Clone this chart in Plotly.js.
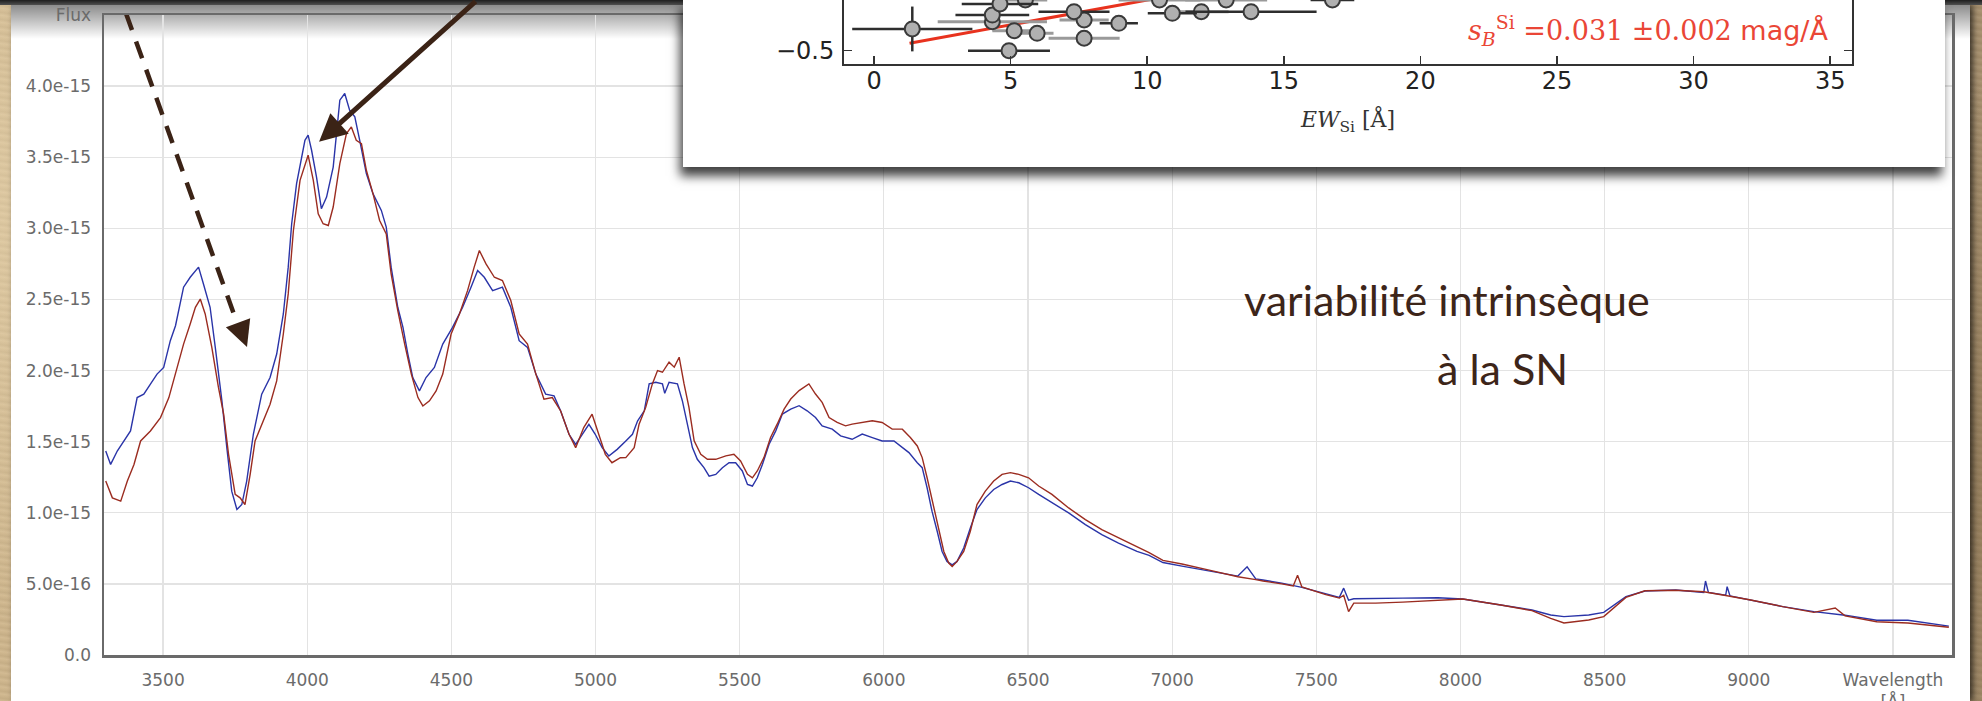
<!DOCTYPE html>
<html>
<head>
<meta charset="utf-8">
<script src="https://cdn.plot.ly/plotly-3.0.1.min.js"></script>
<style>
html,body{margin:0;padding:0;width:1982px;height:701px;overflow:hidden;}
body{position:relative;background:#c6ad84;}
#bg{position:absolute;left:0;top:0;width:1982px;height:701px;
 background:
 radial-gradient(ellipse at 10% 30%, rgba(255,240,205,0.35), rgba(255,240,205,0) 60%),
 radial-gradient(ellipse at 90% 70%, rgba(110,85,50,0.30), rgba(110,85,50,0) 60%),
 repeating-linear-gradient(8deg, rgba(255,255,255,0.06) 0px, rgba(0,0,0,0.05) 3px, rgba(255,255,255,0.04) 7px),
 linear-gradient(90deg,#d0b78d,#c4aa80 50%,#a8916f);}
#panel{position:absolute;left:11px;top:5px;width:1959px;height:696px;background:#fff;box-shadow:3px 0 6px rgba(0,0,0,0.65);}
#panelshade{position:absolute;left:11px;top:5px;width:1959px;height:34px;background:linear-gradient(rgba(0,0,0,0.45),rgba(0,0,0,0));}
#topband{position:absolute;left:0;top:0;width:1982px;height:5px;background:linear-gradient(#1e1e1e,#505050);}
#main{position:absolute;left:0;top:0;width:1982px;height:701px;}
#inset{position:absolute;left:683px;top:0;width:1262px;height:167px;background:#fff;box-shadow:-3px 9px 10px rgba(0,0,0,0.75);}
</style>
</head>
<body>
<div id="bg"></div>
<div id="panel"></div>
<div id="panelshade"></div>
<div id="topband"></div>
<div id="main"></div>
<div id="inset"></div>
<script>
// ---------------- Spectrum data (flux in units of 1e-15) ----------------
const FLUX_UNIT = 1e-15;

const blueWave = [
 3301,3318,3341,3364,3387,3410,3433,3456,3479,3502,
 3525,3543,3571,3594,3623,3640,3663,3681,3704,3721,
 3738,3756,3773,3790,3813,3842,3871,3894,3917,3934,
 3946,3963,3980,3992,4003,4015,4032,4049,4067,4090,
 4113,4130,4147,4165,4182,4205,4228,4257,4274,4291,
 4314,4332,4349,4366,4389,4412,4441,4470,4504,4539,
 4568,4591,4614,4643,4677,4706,4735,4764,4793,4827,
 4856,4879,4908,4931,4954,4977,4999,5023,5046,5075,
 5105,5128,5146,5169,5186,5209,5232,5240,5255,5284,
 5301,5319,5336,5353,5376,5394,5417,5440,5463,5486,
 5509,5527,5544,5561,5579,5602,5625,5648,5677,5706,
 5734,5763,5786,5821,5850,5890,5925,5960,5994,6035,
 6058,6087,6116,6133,6150,6167,6185,6202,6219,6237,
 6254,6277,6300,6323,6352,6381,6410,6439,6468,6502,
 6537,6583,6641,6699,6756,6814,6878,6920,6968,7034,
 7121,7228,7260,7290,7315,7380,7450,7533,7580,7595,
 7612,7630,7706,7800,7922,8008,8140,8248,8313,8359,
 8445,8497,8574,8640,8747,8844,8850,8860,8920,8925,
 8935,9007,9118,9226,9300,9334,9444,9552,9694
];
const blueFlux = [
 1.434,1.340,1.434,1.505,1.575,1.810,1.834,1.904,1.975,2.022,
 2.210,2.315,2.586,2.656,2.727,2.609,2.445,2.163,1.787,1.458,
 1.152,1.023,1.058,1.223,1.552,1.834,1.951,2.116,2.398,2.727,
 3.032,3.314,3.502,3.619,3.655,3.549,3.361,3.138,3.220,3.431,
 3.901,3.948,3.831,3.784,3.619,3.385,3.244,3.126,3.009,2.727,
 2.445,2.304,2.116,1.951,1.857,1.951,2.022,2.186,2.304,2.445,
 2.586,2.703,2.656,2.562,2.586,2.445,2.210,2.163,1.975,1.834,
 1.822,1.716,1.552,1.481,1.552,1.622,1.552,1.458,1.399,1.446,
 1.505,1.552,1.647,1.717,1.906,1.918,1.906,1.840,1.918,1.906,
 1.788,1.623,1.458,1.376,1.317,1.258,1.270,1.317,1.352,1.352,
 1.294,1.199,1.188,1.246,1.341,1.482,1.576,1.694,1.729,1.753,
 1.717,1.670,1.611,1.588,1.541,1.517,1.553,1.529,1.505,1.505,
 1.470,1.423,1.352,1.317,1.176,1.011,0.870,0.728,0.658,0.634,
 0.658,0.752,0.893,1.023,1.105,1.164,1.199,1.223,1.211,1.176,
 1.129,1.070,0.999,0.917,0.846,0.787,0.728,0.700,0.650,0.625,
 0.595,0.555,0.620,0.535,0.527,0.505,0.475,0.430,0.405,0.470,
 0.385,0.395,0.395,0.400,0.403,0.394,0.352,0.316,0.281,0.270,
 0.281,0.300,0.410,0.450,0.457,0.440,0.520,0.440,0.420,0.480,
 0.415,0.387,0.340,0.305,0.285,0.280,0.244,0.244,0.203
];

const redWave = [
 3301,3324,3353,3376,3399,3422,3456,3491,3520,3543,
 3571,3594,3612,3629,3646,3669,3692,3710,3727,3750,
 3767,3784,3802,3819,3842,3871,3894,3917,3934,3952,
 3975,3992,4003,4021,4038,4055,4073,4090,4113,4136,
 4153,4170,4188,4205,4228,4251,4274,4291,4314,4338,
 4361,4384,4401,4424,4447,4470,4499,4528,4556,4579,
 4597,4620,4649,4677,4706,4735,4764,4793,4821,4850,
 4879,4908,4931,4959,4988,5011,5034,5057,5086,5105,
 5134,5151,5174,5197,5215,5232,5255,5273,5290,5307,
 5324,5342,5365,5388,5417,5452,5480,5503,5527,5544,
 5561,5584,5607,5630,5654,5677,5706,5740,5763,5786,
 5810,5838,5867,5890,5925,5960,5994,6029,6064,6092,
 6116,6133,6150,6173,6191,6208,6225,6237,6254,6277,
 6300,6323,6352,6381,6410,6439,6468,6502,6537,6583,
 6641,6699,6756,6814,6866,6920,6968,7034,7121,7228,
 7290,7315,7380,7420,7435,7450,7533,7580,7595,7612,
 7630,7706,7800,7922,8008,8140,8248,8313,8359,8445,
 8497,8574,8640,8747,8844,8920,9007,9118,9226,9300,
 9334,9444,9552,9694
];
const redFlux = [
 1.223,1.105,1.082,1.223,1.340,1.505,1.575,1.669,1.810,1.975,
 2.186,2.327,2.445,2.503,2.398,2.163,1.881,1.693,1.411,1.129,
 1.105,1.058,1.270,1.505,1.622,1.763,1.927,2.257,2.539,2.985,
 3.337,3.455,3.514,3.337,3.102,3.032,3.020,3.150,3.455,3.666,
 3.713,3.619,3.596,3.408,3.244,3.055,2.961,2.680,2.421,2.186,
 1.975,1.810,1.751,1.787,1.857,1.975,2.257,2.398,2.562,2.727,
 2.844,2.750,2.656,2.633,2.492,2.257,2.186,1.975,1.799,1.810,
 1.716,1.552,1.458,1.599,1.693,1.552,1.411,1.352,1.387,1.388,
 1.458,1.623,1.741,1.906,2.000,1.988,2.059,2.024,2.094,1.906,
 1.741,1.506,1.411,1.376,1.376,1.400,1.411,1.364,1.270,1.246,
 1.294,1.388,1.529,1.623,1.729,1.800,1.859,1.906,1.835,1.776,
 1.670,1.635,1.611,1.623,1.635,1.647,1.635,1.588,1.588,1.529,
 1.470,1.388,1.246,1.034,0.870,0.728,0.646,0.622,0.658,0.728,
 0.870,1.058,1.152,1.223,1.270,1.282,1.270,1.246,1.188,1.129,
 1.034,0.952,0.881,0.822,0.775,0.720,0.665,0.640,0.600,0.550,
 0.530,0.520,0.500,0.485,0.560,0.478,0.425,0.400,0.420,0.305,
 0.365,0.365,0.372,0.382,0.394,0.352,0.312,0.258,0.225,0.246,
 0.270,0.405,0.452,0.455,0.445,0.418,0.387,0.340,0.300,0.330,
 0.275,0.234,0.225,0.195
];

// axis ticks
const xTickVals = [3500,4000,4500,5000,5500,6000,6500,7000,7500,8000,8500,9000,9500];
const xTickText = ["3500","4000","4500","5000","5500","6000","6500","7000","7500","8000","8500","9000","Wavelength<br>[Å]"];
const yTickVals = [0,0.5,1.0,1.5,2.0,2.5,3.0,3.5,4.0,4.5];
const yTickText = ["0.0","5.0e-16","1.0e-15","1.5e-15","2.0e-15","2.5e-15","3.0e-15","3.5e-15","4.0e-15","Flux"];

// annotation targets (wavelength, flux/1e-15)
const dashedArrowStart = [3371, 4.513];
const dashedArrowEnd   = [3763, 2.299];
const dashedArrowTip   = [3791, 2.165];
const solidArrowTip    = [4041, 3.608];
const commentLines = ["variabilité intrinsèque", "à la SN"];

// ---------------- Inset data ----------------
const ewDark     = [1.40, 4.94, 4.33, 4.61, 7.32, 8.96, 10.92, 13.80, 16.78];
const magDark    = [-0.364, -0.500, -0.277, -0.208, -0.256, -0.329, -0.266, -0.256, -0.183];
const ewErrDark  = [2.2, 1.5, 1.35, 1.4, 1.3, 0.7, 0.9, 2.4, 0.8];
const magErrDark = [0.14, 0, 0, 0, 0, 0, 0, 0, 0];
const ewGrey     = [4.33, 5.13, 5.97, 7.69, 7.69, 5.54, 10.45, 11.98, 12.89];
const magGrey    = [-0.319, -0.375, -0.391, -0.308, -0.422, -0.183, -0.183, -0.256, -0.183];
const ewErrGrey  = [2.0, 0.8, 0.6, 0.9, 1.3, 0.8, 1.5, 1.0, 1.5];
const fitEW  = [1.3, 35];
const fitMag = [-0.453, 0.592];
const insetXTicks = [0,5,10,15,20,25,30,35];
const insetYTicks = [-1.0,-0.5,0.0,0.5,1.0];
const slopeText = '<i>s</i><sub><i>B</i></sub><sup>Si</sup> =0.031 ±0.002 <span style="font-family:\'DejaVu Sans\'">mag/Å</span>';

// ---------------- Main chart ----------------
const tickFont = {family:'DejaVu Sans, Verdana, sans-serif', size:17, color:'#6b6b6b'};
const mainTraces = [
 {x: blueWave, y: blueFlux.map(v => v*FLUX_UNIT), type:'scatter', mode:'lines',
  line:{color:'#2a34a8', width:1.4}, hoverinfo:'skip'},
 {x: redWave, y: redFlux.map(v => v*FLUX_UNIT), type:'scatter', mode:'lines',
  line:{color:'#9b2c20', width:1.4}, hoverinfo:'skip'}
];
const arrowColor = '#3b2316';
const mainLayout = {
 width:1982, height:701,
 margin:{l:104, r:30, t:15, b:46, pad:0},
 paper_bgcolor:'rgba(0,0,0,0)', plot_bgcolor:'rgba(0,0,0,0)',
 showlegend:false,
 xaxis:{range:[3295,9705], tickmode:'array', tickvals:xTickVals, ticktext:xTickText,
  showgrid:true, gridcolor:'#e3e3e3', gridwidth:1.3, zeroline:false,
  showline:true, linecolor:'#6a6a6a', linewidth:2.5, mirror:true,
  ticks:'outside', ticklen:0, ticklabelstandoff:8, tickfont:tickFont},
 yaxis:{range:[0,4.5*FLUX_UNIT], tickmode:'array', tickvals:yTickVals.map(v=>v*FLUX_UNIT), ticktext:yTickText,
  showgrid:true, gridcolor:'#e3e3e3', gridwidth:1.3, zeroline:false,
  showline:true, linecolor:'#6a6a6a', linewidth:2.5, mirror:true,
  ticks:'outside', ticklen:0, ticklabelstandoff:7, tickfont:tickFont},
 shapes:[
  {type:'line', xref:'x', yref:'y',
   x0:dashedArrowStart[0], y0:dashedArrowStart[1]*FLUX_UNIT,
   x1:dashedArrowEnd[0], y1:dashedArrowEnd[1]*FLUX_UNIT,
   line:{color:arrowColor, width:4.5, dash:'18px,12px'}}
 ],
 annotations:[
  {x:dashedArrowTip[0], y:dashedArrowTip[1]*FLUX_UNIT, xref:'x', yref:'y', text:'',
   showarrow:true, arrowhead:2, arrowsize:1.15, arrowwidth:4.5, arrowcolor:arrowColor,
   ax:-7, ay:-19, standoff:0},
  {x:solidArrowTip[0], y:solidArrowTip[1]*FLUX_UNIT, xref:'x', yref:'y', text:'',
   showarrow:true, arrowhead:2, arrowsize:1.1, arrowwidth:5, arrowcolor:arrowColor,
   ax:158, ay:-142, standoff:0},
  {x:0.7265, y:0.556, xref:'paper', yref:'paper', text:commentLines[0], showarrow:false,
   xanchor:'center', yanchor:'middle',
   font:{family:'Lato, "Open Sans", sans-serif', size:43, weight:400, color:'#3d2519'}},
  {x:0.757, y:0.447, xref:'paper', yref:'paper', text:commentLines[1], showarrow:false,
   xanchor:'center', yanchor:'middle',
   font:{family:'Lato, "Open Sans", sans-serif', size:43, weight:400, color:'#3d2519'}}
 ]
};
Plotly.newPlot('main', mainTraces, mainLayout, {staticPlot:true, displayModeBar:false});

// ---------------- Inset chart ----------------
const insetTraces = [
 {x: fitEW, y: fitMag, type:'scatter', mode:'lines', line:{color:'#e8321e', width:3}, hoverinfo:'skip'},
 {x: ewGrey, y: magGrey, type:'scatter', mode:'markers',
  marker:{size:15, color:'#b0b0b0', line:{color:'#3a3a3a', width:2}},
  error_x:{type:'data', array:ewErrGrey, color:'#9a9a9a', thickness:3, width:0}, hoverinfo:'skip'},
 {x: ewDark, y: magDark, type:'scatter', mode:'markers',
  marker:{size:15, color:'#b0b0b0', line:{color:'#3a3a3a', width:2}},
  error_x:{type:'data', array:ewErrDark, color:'#2e2e2e', thickness:2.5, width:0},
  error_y:{type:'data', array:magErrDark, color:'#2e2e2e', thickness:2.5, width:0}, hoverinfo:'skip'}
];
const insetFont = {family:'DejaVu Sans, sans-serif', size:24, color:'#222'};
const insetLayout = {
 width:1262, height:167,
 margin:{l:161, r:93, t:0, b:103, pad:0},
 paper_bgcolor:'#ffffff', plot_bgcolor:'#ffffff',
 showlegend:false,
 xaxis:{range:[-1.1,35.8], tickmode:'array', tickvals:insetXTicks,
  showgrid:false, zeroline:false, showline:true, linecolor:'#333', linewidth:2,
  ticks:'inside', ticklen:8, tickwidth:1.5, tickcolor:'#333', ticklabelstandoff:-6,
  tickfont:insetFont,
  title:{text:'<i>EW</i><sub>Si</sub> [Å]', standoff:18,
   font:{family:'DejaVu Serif, serif', size:22, color:'#333'}}},
 yaxis:{range:[-0.583,-0.183], tickmode:'array', tickvals:insetYTicks,
  showgrid:false, zeroline:false, showline:true, linecolor:'#333', linewidth:2, mirror:'ticks',
  ticks:'inside', ticklen:8, tickwidth:1.5, tickcolor:'#333', ticklabelstandoff:3,
  tickfont:insetFont},
 annotations:[
  {x:0.978, y:0.53, xref:'paper', yref:'paper', text:slopeText, showarrow:false,
   xanchor:'right', yanchor:'middle',
   font:{family:'DejaVu Serif, serif', size:27, color:'#ea4636'}}
 ]
};
Plotly.newPlot('inset', insetTraces, insetLayout, {staticPlot:true, displayModeBar:false});
</script>
</body>
</html>
